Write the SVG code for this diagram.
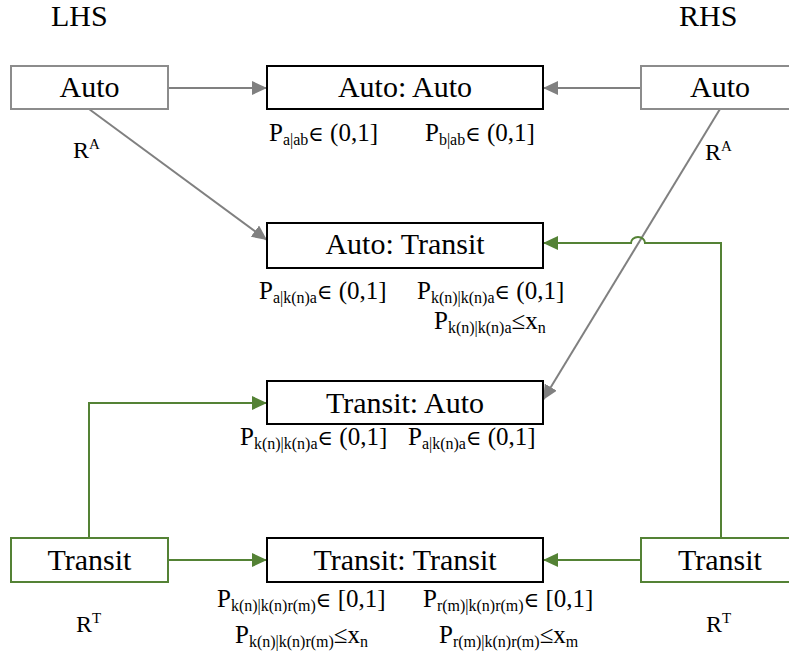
<svg xmlns="http://www.w3.org/2000/svg" width="789" height="659" viewBox="0 0 789 659">
  <style>
    text { font-family: "Liberation Serif", "Times New Roman", serif; fill: #000; }
    .big { font-size: 30px; }
    .lbl { font-size: 30px; text-anchor: middle; }
    .f { font-size: 25px; }
    .sub { font-size: 16px; }
    .el { font-size: 21px; font-family: "DejaVu Serif", serif; }
    .r { font-size: 24px; }
    .sup { font-size: 15px; }
    .side-auto { fill: #fff; stroke: #8c8c8c; stroke-width: 2; }
    .side-transit { fill: #fff; stroke: #548235; stroke-width: 2; }
    .pair { fill: #fff; stroke: #000; stroke-width: 2; }
    .gray { fill: none; stroke: #808080; stroke-width: 2; }
    .green { fill: none; stroke: #548235; stroke-width: 2; }
  </style>
  <defs>
    <marker id="ahGray" markerUnits="userSpaceOnUse" markerWidth="16" markerHeight="14" refX="15" refY="7" orient="auto">
      <path d="M0,0 L15,7 L0,14 Z" fill="#808080"/>
    </marker>
    <marker id="ahGreen" markerUnits="userSpaceOnUse" markerWidth="16" markerHeight="14" refX="15" refY="7" orient="auto">
      <path d="M0,0 L15,7 L0,14 Z" fill="#548235"/>
    </marker>
  </defs>

  <rect width="789" height="659" fill="#fff"/>

  <!-- side headings -->
  <text class="big" x="51" y="26">LHS</text>
  <text class="big" x="679" y="26">RHS</text>

  <!-- connectors -->
  <g id="connectors">
    <line class="gray" x1="168" y1="88" x2="267" y2="88" marker-end="url(#ahGray)"/>
    <line class="gray" x1="641" y1="88" x2="543" y2="88" marker-end="url(#ahGray)"/>
    <line class="gray" x1="89" y1="109" x2="267" y2="240" marker-end="url(#ahGray)"/>
    <line class="gray" x1="720" y1="109" x2="543" y2="400" marker-end="url(#ahGray)"/>
    <path class="green" d="M721,538 V243 H645 A7,6 0 0 0 631,243 H543" marker-end="url(#ahGreen)"/>
    <path class="green" d="M89,538 V403 H267" marker-end="url(#ahGreen)"/>
    <line class="green" x1="168" y1="560" x2="267" y2="560" marker-end="url(#ahGreen)"/>
    <line class="green" x1="641" y1="560" x2="543" y2="560" marker-end="url(#ahGreen)"/>
  </g>

  <!-- left auto -->
  <g id="lhs-auto">
    <rect class="side-auto" x="11" y="66" width="157" height="43"/>
    <text class="lbl" x="89.5" y="97">Auto</text>
    <text class="r" x="73" y="158">R<tspan class="sup" dy="-9">A</tspan></text>
  </g>

  <!-- right auto -->
  <g id="rhs-auto">
    <rect class="side-auto" x="641" y="66" width="160" height="43"/>
    <text class="lbl" x="720" y="97">Auto</text>
    <text class="r" x="705" y="160">R<tspan class="sup" dy="-9">A</tspan></text>
  </g>

  <!-- auto : auto -->
  <g id="auto-auto">
    <rect class="pair" x="267" y="66" width="276" height="43"/>
    <text class="lbl" x="405" y="97">Auto: Auto</text>
    <text class="f" x="269" y="141">P<tspan class="sub" dy="4">a|ab</tspan><tspan class="el" dy="-4">∈</tspan> (0,1]</text>
    <text class="f" x="425" y="141">P<tspan class="sub" dy="4">b|ab</tspan><tspan class="el" dy="-4">∈</tspan> (0,1]</text>
  </g>

  <!-- auto : transit -->
  <g id="auto-transit">
    <rect class="pair" x="267" y="223" width="276" height="45"/>
    <text class="lbl" x="405" y="254">Auto: Transit</text>
    <text class="f" x="259" y="299">P<tspan class="sub" dy="4">a|k(n)a</tspan><tspan class="el" dy="-4">∈</tspan> (0,1]</text>
    <text class="f" x="417" y="299">P<tspan class="sub" dy="4">k(n)|k(n)a</tspan><tspan class="el" dy="-4">∈</tspan> (0,1]</text>
    <text class="f" x="434" y="329">P<tspan class="sub" dy="4">k(n)|k(n)a</tspan><tspan dy="-4">≤x</tspan><tspan class="sub" dy="4">n</tspan></text>
  </g>

  <!-- transit : auto -->
  <g id="transit-auto">
    <rect class="pair" x="267" y="381" width="276" height="43"/>
    <text class="lbl" x="405" y="413">Transit: Auto</text>
    <text class="f" x="240" y="445">P<tspan class="sub" dy="4">k(n)|k(n)a</tspan><tspan class="el" dy="-4">∈</tspan> (0,1]</text>
    <text class="f" x="408" y="445">P<tspan class="sub" dy="4">a|k(n)a</tspan><tspan class="el" dy="-4">∈</tspan> (0,1]</text>
  </g>

  <!-- left transit -->
  <g id="lhs-transit">
    <rect class="side-transit" x="11" y="538" width="157" height="44"/>
    <text class="lbl" x="89.5" y="570">Transit</text>
    <text class="r" x="76" y="632">R<tspan class="sup" dy="-9">T</tspan></text>
  </g>

  <!-- right transit -->
  <g id="rhs-transit">
    <rect class="side-transit" x="641" y="538" width="160" height="44"/>
    <text class="lbl" x="720" y="570">Transit</text>
    <text class="r" x="706" y="632">R<tspan class="sup" dy="-9">T</tspan></text>
  </g>

  <!-- transit : transit -->
  <g id="transit-transit">
    <rect class="pair" x="267" y="538" width="276" height="44"/>
    <text class="lbl" x="405" y="570">Transit: Transit</text>
    <text class="f" x="217" y="607">P<tspan class="sub" dy="4">k(n)|k(n)r(m)</tspan><tspan class="el" dy="-4">∈</tspan> [0,1]</text>
    <text class="f" x="235" y="643">P<tspan class="sub" dy="4">k(n)|k(n)r(m)</tspan><tspan dy="-4">≤x</tspan><tspan class="sub" dy="4">n</tspan></text>
    <text class="f" x="423" y="607">P<tspan class="sub" dy="4">r(m)|k(n)r(m)</tspan><tspan class="el" dy="-4">∈</tspan> [0,1]</text>
    <text class="f" x="439" y="643">P<tspan class="sub" dy="4">r(m)|k(n)r(m)</tspan><tspan dy="-4">≤x</tspan><tspan class="sub" dy="4">m</tspan></text>
  </g>
</svg>
